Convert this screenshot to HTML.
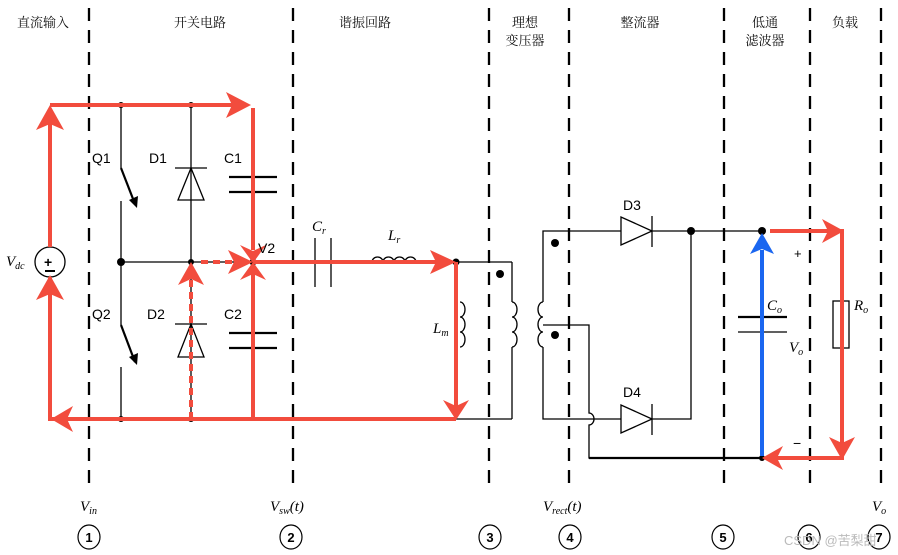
<!DOCTYPE html>
<html><head><meta charset="utf-8"><style>
html,body{margin:0;padding:0;background:#fff;}
svg{display:block;}
.cn{font-family:"Liberation Serif","Noto Serif CJK SC",serif;font-size:13px;fill:#111;}
.lb{font-family:"Liberation Sans",sans-serif;font-size:14px;fill:#000;}
.it{font-family:"Liberation Serif",serif;font-style:italic;font-size:15px;fill:#000;}
</style></head><body>
<svg width="898" height="555" viewBox="0 0 898 555" xmlns="http://www.w3.org/2000/svg">
<g stroke="#000" stroke-width="2.3" stroke-dasharray="13,9">
<line x1="89" y1="8" x2="89" y2="492"/>
<line x1="293" y1="8" x2="293" y2="492"/>
<line x1="489" y1="8" x2="489" y2="492"/>
<line x1="569" y1="8" x2="569" y2="492"/>
<line x1="724" y1="8" x2="724" y2="492"/>
<line x1="810" y1="8" x2="810" y2="492"/>
<line x1="881" y1="8" x2="881" y2="492"/>
</g>
<g class="cn" text-anchor="middle">
<text x="43" y="27">直流输入</text>
<text x="200" y="27">开关电路</text>
<text x="365" y="27">谐振回路</text>
<text x="525" y="27">理想</text><text x="525" y="45">变压器</text>
<text x="640" y="27">整流器</text>
<text x="765" y="27">低通</text><text x="765" y="45">滤波器</text>
<text x="845" y="27">负载</text>
</g>
<g stroke="#000" stroke-width="1.3" fill="none">
<line x1="121" y1="105" x2="121" y2="168"/>
<line x1="121" y1="201" x2="121" y2="325"/>
<line x1="121" y1="367" x2="121" y2="419"/>
<line x1="191" y1="105" x2="191" y2="419"/>
<line x1="121" y1="262" x2="253" y2="262"/>
<line x1="456" y1="262" x2="512" y2="262"/>
<line x1="512" y1="262" x2="512" y2="302"/>
<line x1="512" y1="347" x2="512" y2="419"/>
<line x1="456" y1="419" x2="512" y2="419"/>
<path d="M512 302 a5 7.5 0 0 1 0 15 a5 7.5 0 0 1 0 15 a5 7.5 0 0 1 0 15"/>
<path d="M460 302 a5 7.5 0 0 1 0 15 a5 7.5 0 0 1 0 15 a5 7.5 0 0 1 0 15"/>
<path d="M543 302 a5 7.5 0 0 0 0 15 a5 7.5 0 0 0 0 15 a5 7.5 0 0 0 0 15"/>
<path d="M543 302 V231 H621"/>
<path d="M543 347 V419 H621"/>
<path d="M543 325 H589 V413 a5 6 0 0 1 0 12 V458 H762"/>
<path d="M652 231 H762"/>
<path d="M652 419 H691 V231"/>
<path d="M372 262 a5.5 5 0 0 1 11 0 a5.5 5 0 0 1 11 0 a5.5 5 0 0 1 11 0 a5.5 5 0 0 1 11 0"/>
<line x1="315" y1="238" x2="315" y2="287"/>
<line x1="331" y1="238" x2="331" y2="287"/>
<polygon points="178,200 204,200 191,168"/><line x1="175" y1="168" x2="207" y2="168"/>
<polygon points="178,357 204,357 191,324"/><line x1="175" y1="324" x2="207" y2="324"/>
<polygon points="621,217 621,245 652,231"/><line x1="652" y1="216" x2="652" y2="247"/>
<polygon points="621,405 621,433 652,419"/><line x1="652" y1="404" x2="652" y2="435"/>
<rect x="833" y="301" width="16" height="47"/>
<circle cx="50" cy="262" r="15"/>
<line x1="738" y1="332" x2="787" y2="332"/>
</g>
<g stroke="#000" stroke-width="2.2">
<line x1="229" y1="177" x2="277" y2="177"/><line x1="229" y1="192" x2="277" y2="192"/>
<line x1="229" y1="333" x2="277" y2="333"/><line x1="229" y1="348" x2="277" y2="348"/>
<line x1="738" y1="317" x2="787" y2="317"/>
<line x1="121" y1="168" x2="135" y2="204"/>
<line x1="121" y1="325" x2="135" y2="362"/>
<line x1="589" y1="458" x2="762" y2="458"/>
</g>
<polygon points="129,200 137,208 138,196"/><polygon points="129,357 137,365 138,353"/>
<text x="44" y="267" font-size="14" font-weight="bold" font-family="Liberation Sans">+</text>
<line x1="45" y1="271" x2="55" y2="271" stroke="#000" stroke-width="2"/>
<g fill="#000">
<circle cx="121" cy="105" r="3"/><circle cx="191" cy="105" r="3"/>
<circle cx="121" cy="262" r="4"/><circle cx="191" cy="262" r="3"/>
<circle cx="121" cy="419" r="3"/><circle cx="191" cy="419" r="3"/>
<circle cx="253" cy="262" r="3.5"/><circle cx="456" cy="262" r="3.5"/>
<circle cx="500" cy="274" r="4"/><circle cx="555" cy="243" r="4"/><circle cx="555" cy="335" r="4"/>
<circle cx="691" cy="231" r="4"/><circle cx="762" cy="231" r="4"/><circle cx="762" cy="458" r="3"/>
</g>
<g stroke="#f24c3d" stroke-width="4" fill="none">
<path d="M50 247 V110"/><path d="M50 277 V419 H456"/>
<path d="M50 105 H240"/><path d="M253 108 V250"/>
<path d="M253 262 H446"/><path d="M456 262 V408"/>
<path d="M253 419 V272"/>
<path d="M770 231 H842 V458 H770"/>
</g>
<g stroke="#f24c3d" stroke-width="4" stroke-dasharray="7,5" fill="none">
<path d="M191 419 V272"/><path d="M201 262 H240"/>
</g>
<g fill="#f24c3d">
<polygon points="36,130 50,105 64,130 50,124"/>
<polygon points="36,300 50,275 64,300 50,294"/>
<polygon points="226,92 251,105 226,118 232,105"/>
<polygon points="240,245 253,263 266,245 253,251"/>
<polygon points="228,250 253,262 228,274 234,262"/>
<polygon points="240,280 253,262 266,280 253,274"/>
<polygon points="178,285 191,262 204,285 191,279"/>
<polygon points="430,250 456,262 430,274 436,262"/>
<polygon points="443,400 456,420 469,400 456,406"/>
<polygon points="73,406 51,419 73,432 67,419"/>
<polygon points="822,219 844,231 822,243 828,231"/>
<polygon points="829,437 842,460 855,437 842,443"/>
<polygon points="783,446 762,458 783,470 777,458"/>
</g>
<line x1="762" y1="456" x2="762" y2="250" stroke="#1a66f0" stroke-width="4"/>
<polygon points="750,254 762,233 774,254 762,249" fill="#1a66f0"/>
<g class="lb">
<text x="92" y="163">Q1</text><text x="149" y="163">D1</text><text x="224" y="163">C1</text>
<text x="92" y="319">Q2</text><text x="147" y="319">D2</text><text x="224" y="319">C2</text>
<text x="258" y="253">V2</text>
<text x="623" y="210">D3</text><text x="623" y="397">D4</text>
<text x="794" y="258" font-size="13">+</text><text x="793" y="448" font-size="14">−</text>
</g>
<g class="it">
<text x="6" y="266">V<tspan font-size="10" dy="3">dc</tspan></text>
<text x="312" y="231">C<tspan font-size="10" dy="3">r</tspan></text>
<text x="388" y="240">L<tspan font-size="10" dy="3">r</tspan></text>
<text x="433" y="333">L<tspan font-size="10" dy="3">m</tspan></text>
<text x="767" y="310">C<tspan font-size="10" dy="3">o</tspan></text>
<text x="789" y="352">V<tspan font-size="10" dy="3">o</tspan></text>
<text x="854" y="310">R<tspan font-size="10" dy="3">o</tspan></text>
<text x="80" y="511">V<tspan font-size="10" dy="3">in</tspan></text>
<text x="270" y="511">V<tspan font-size="10" dy="3">sw</tspan><tspan dy="-3">(t)</tspan></text>
<text x="543" y="511">V<tspan font-size="10" dy="3">rect</tspan><tspan dy="-3">(t)</tspan></text>
<text x="872" y="511">V<tspan font-size="10" dy="3">o</tspan></text>
</g>
<g stroke="#000" stroke-width="1.2" fill="#fff">
<ellipse cx="89" cy="537" rx="11" ry="12"/><ellipse cx="291" cy="537" rx="11" ry="12"/>
<ellipse cx="490" cy="537" rx="11" ry="12"/><ellipse cx="570" cy="537" rx="11" ry="12"/>
<ellipse cx="723" cy="537" rx="11" ry="12"/><ellipse cx="809" cy="537" rx="11" ry="12"/>
<ellipse cx="879" cy="537" rx="11" ry="12"/>
</g>
<g font-family="Liberation Sans" font-weight="bold" font-size="13" text-anchor="middle">
<text x="89" y="542">1</text><text x="291" y="542">2</text><text x="490" y="542">3</text>
<text x="570" y="542">4</text><text x="723" y="542">5</text><text x="809" y="542">6</text><text x="879" y="542">7</text>
</g>
<text x="784" y="545" font-family="Liberation Sans,Noto Sans CJK SC,sans-serif" font-size="13" fill="#bbb">CSDN @苦梨甜</text>
</svg>
</body></html>
